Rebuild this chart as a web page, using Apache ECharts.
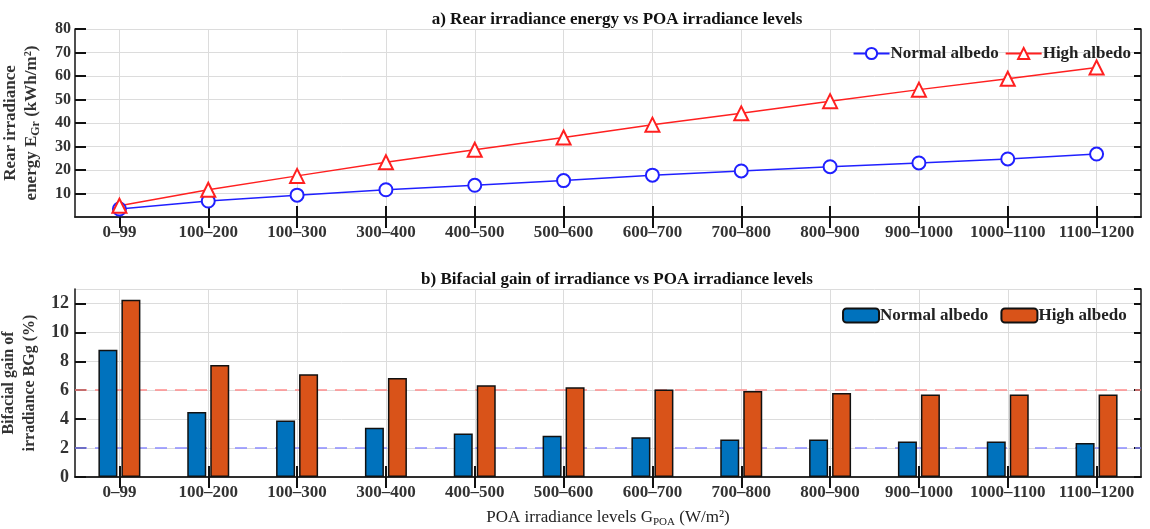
<!DOCTYPE html>
<html>
<head>
<meta charset="utf-8">
<script src="https://cdn.jsdelivr.net/npm/echarts@6/dist/echarts.min.js"></script>
<style>
html,body{margin:0;padding:0;background:#fff;}
#c{width:1150px;height:529px;}
</style>
</head>
<body>
<div id="c"></div>
<script>
const categories = ['0–99','100–200','100–300','300–400','400–500','500–600','600–700','700–800','800–900','900–1000','1000–1100','1100–1200'];
const energyNormal = [3.4, 6.8, 9.3, 11.6, 13.5, 15.5, 17.8, 19.6, 21.4, 23.0, 24.7, 26.8];
const energyHigh = [4.8, 11.6, 17.5, 23.3, 28.6, 33.8, 39.3, 44.1, 49.3, 54.2, 58.8, 63.6];
const gainNormal = [8.8, 4.5, 3.9, 3.4, 3.0, 2.85, 2.75, 2.6, 2.6, 2.45, 2.45, 2.35];
const gainHigh = [12.25, 7.75, 7.1, 6.85, 6.35, 6.2, 6.05, 5.95, 5.8, 5.7, 5.7, 5.7];
const refNormal = 2;
const refHigh = 6;

const FONT = '"Liberation Serif", "Times New Roman", serif';
const chart = echarts.init(document.getElementById('c'), null, {renderer: 'canvas'});

const axisLineStyle = {lineStyle: {color: '#222', width: 1.6}};
const tickStyle = {show: true, inside: true, length: 11, lineStyle: {color: '#111', width: 2}};
const labelStyle = {color: '#333', fontFamily: FONT, fontWeight: 'bold', fontSize: 17};
const gridLine = {show: true, lineStyle: {color: '#dcdcdc', width: 1}};

function xMain(gridIndex) {
  return {
    type: 'category', gridIndex, data: categories, position: 'bottom',
    axisLine: axisLineStyle,
    axisTick: Object.assign({alignWithLabel: true}, tickStyle),
    axisLabel: Object.assign({margin: 7, interval: 0}, labelStyle),
    splitLine: Object.assign({alignWithLabel: true}, gridLine)
  };
}
function xMirror(gridIndex) {
  return {
    type: 'category', gridIndex, data: categories, position: 'top',
    axisLine: axisLineStyle,
    axisTick: Object.assign({alignWithLabel: true}, tickStyle),
    axisLabel: {show: false}, splitLine: {show: false}
  };
}

const option = {
  animation: false,
  backgroundColor: '#fff',
  title: [
    {text: 'a) Rear irradiance energy vs POA irradiance levels', left: 612, top: 6, textAlign: 'center',
     textStyle: {fontFamily: FONT, fontWeight: 'bold', fontSize: 17, color: '#111'}},
    {text: 'b) Bifacial gain of irradiance vs POA irradiance levels', left: 612, top: 266, textAlign: 'center',
     textStyle: {fontFamily: FONT, fontWeight: 'bold', fontSize: 17, color: '#111'}}
  ],
  legend: [
    {data: ['Normal albedo', 'High albedo'], right: 14, top: 40, itemWidth: 36, itemHeight: 14, itemGap: 6,
     textStyle: {fontFamily: FONT, fontWeight: 'bold', fontSize: 17, color: '#222', padding: [0,0,0,-4]}},
    {data: ['Normal albedo ', 'High albedo '], right: 14, top: 302, itemWidth: 36, itemHeight: 14, itemGap: 8,
     textStyle: {fontFamily: FONT, fontWeight: 'bold', fontSize: 17, color: '#222', padding: [0,0,0,-4]}}
  ],
  grid: [
    {left: 75, right: 9, top: 29, height: 188, outerBoundsMode: 'none', containLabel: false},
    {left: 75, right: 9, top: 289, height: 188, outerBoundsMode: 'none', containLabel: false}
  ],
  xAxis: [
    xMain(0), xMirror(0),
    Object.assign(xMain(1), {
      name: '{t|POA irradiance levels G}{s|POA}{t| (W/m²)}', nameLocation: 'middle', nameGap: 30,
      nameTextStyle: {rich: {
        t: {fontFamily: FONT, fontSize: 17, color: '#222'},
        s: {fontFamily: FONT, fontSize: 11, color: '#222', padding: [10, 0, 0, 0]}
      }}
    }),
    xMirror(1)
  ],
  yAxis: [
    {type: 'value', gridIndex: 0, min: 0, max: 80, interval: 10,
     axisLine: Object.assign({show: true}, axisLineStyle), axisTick: tickStyle,
     axisLabel: Object.assign({showMinLabel: false, margin: 4}, labelStyle, {fontSize: 16}),
     splitLine: gridLine,
     name: '{t|Rear irradiance}\n{t|energy E}{s|Gr}{t| (kWh/m²)}', nameLocation: 'middle', nameRotate: 90, nameGap: 33,
     nameTextStyle: {lineHeight: 21, rich: {
       t: {fontFamily: FONT, fontWeight: 'bold', fontSize: 17, color: '#333', lineHeight: 21},
       s: {fontFamily: FONT, fontWeight: 'bold', fontSize: 12, color: '#333', lineHeight: 21, padding: [8, 0, 0, 0]}
     }}},
    {type: 'value', gridIndex: 0, min: 0, max: 80, interval: 10, position: 'right',
     axisLine: Object.assign({show: true}, axisLineStyle), axisTick: Object.assign({}, tickStyle, {length: 7}),
     axisLabel: {show: false}, splitLine: {show: false}},
    {type: 'value', gridIndex: 1, min: 0, max: 13, interval: 2,
     axisLine: Object.assign({show: true}, axisLineStyle), axisTick: tickStyle,
     axisLabel: Object.assign({showMaxLabel: false, margin: 6}, labelStyle, {fontSize: 18}),
     splitLine: gridLine,
     name: '{t|Bifacial gain of}\n{t|irradiance BGg (%)}', nameLocation: 'middle', nameRotate: 90, nameGap: 33,
     nameTextStyle: {lineHeight: 21, rich: {
       t: {fontFamily: FONT, fontWeight: 'bold', fontSize: 16, color: '#333', lineHeight: 21}
     }}},
    {type: 'value', gridIndex: 1, min: 0, max: 13, interval: 2, position: 'right',
     axisLine: Object.assign({show: true}, axisLineStyle), axisTick: Object.assign({}, tickStyle, {length: 7}),
     axisLabel: {show: false}, splitLine: {show: false}}
  ],
  series: [
    {name: 'Normal albedo', type: 'line', xAxisIndex: 0, yAxisIndex: 0, data: energyNormal,
     symbol: 'emptyCircle', symbolSize: 13, color: '#2020ff',
     lineStyle: {width: 1.5, color: '#2020ff'}, itemStyle: {color: '#2020ff', borderWidth: 1.5}},
    {name: 'High albedo', type: 'line', xAxisIndex: 0, yAxisIndex: 0, data: energyHigh,
     symbol: 'emptyTriangle', symbolSize: 14, color: '#ff2020',
     lineStyle: {width: 1.5, color: '#ff2020'}, itemStyle: {color: '#ff2020', borderWidth: 1.5}},
    {name: 'Normal albedo ', type: 'bar', xAxisIndex: 2, yAxisIndex: 2, data: gainNormal,
     barWidth: 19, barGap: '21%', z: 3,
     itemStyle: {color: '#0072BD', borderColor: '#111', borderWidth: 1.5},
     markLine: {silent: true, symbol: 'none', label: {show: false}, z: 1,
       data: [{yAxis: refNormal, lineStyle: {color: '#8c8cff', type: [12, 8], width: 1.6}}]}},
    {name: 'High albedo ', type: 'bar', xAxisIndex: 2, yAxisIndex: 2, data: gainHigh,
     barWidth: 19, barGap: '21%', z: 3,
     itemStyle: {color: '#D95319', borderColor: '#111', borderWidth: 1.5},
     markLine: {silent: true, symbol: 'none', label: {show: false}, z: 1,
       data: [{yAxis: refHigh, lineStyle: {color: '#ff8c8c', type: [12, 8], width: 1.6}}]}}
  ]
};
chart.setOption(option);
</script>
</body>
</html>
